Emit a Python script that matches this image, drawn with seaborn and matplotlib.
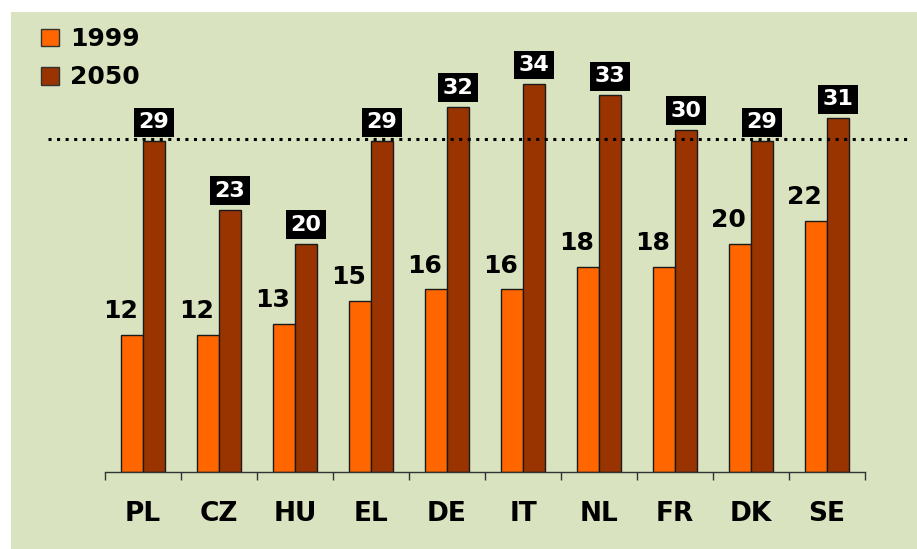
import pandas as pd
import matplotlib.pyplot as plt
import seaborn as sns
from matplotlib.patches import Patch, Rectangle

# Dados
paises = ['PL', 'CZ', 'HU', 'EL', 'DE', 'IT', 'NL', 'FR', 'DK', 'SE']
valores_1999 = [12, 12, 13, 15, 16, 16, 18, 18, 20, 22]
valores_2050 = [29, 23, 20, 29, 32, 34, 33, 30, 29, 31]
anos = ['1999', '2050']
linha_ref = 29.2

cores = {'1999': '#ff6600', '2050': '#993300'}
fundo = '#d9e3bf'

df = pd.DataFrame({
    'pais': paises * 2,
    'ano': ['1999'] * len(paises) + ['2050'] * len(paises),
    'valor': valores_1999 + valores_2050,
})

sns.set_style('white')
plt.rcParams['font.family'] = ['DejaVu Sans']
plt.rcParams['font.weight'] = 'bold'
plt.rcParams['text.color'] = 'black'
plt.rcParams['xtick.color'] = 'black'

fig = plt.figure(figsize=(9.17, 5.49), dpi=100)
fig.patch.set_facecolor('white')
# fundo verde
fig.patches.append(Rectangle((11 / 917, 0), 1, 1 - 12 / 549, transform=fig.transFigure,
                             facecolor=fundo, edgecolor='none', zorder=-10))

ymax = 38
ax = fig.add_axes([105 / 917, 77 / 549, 760 / 917, ymax * 11.41 / 549])
ax.set_facecolor('none')
ax.set_zorder(1)

sns.barplot(data=df, x='pais', y='valor', hue='ano', hue_order=anos, order=paises,
            palette=cores, saturation=1, width=0.58, edgecolor='#1a1a1a', linewidth=1,
            legend=False, ax=ax)

ax.set_xlim(-0.5, len(paises) - 0.5)
ax.set_ylim(0, ymax)
ax.set_xlabel('')
ax.set_ylabel('')
ax.set_yticks([])

# rotulos 1999 (texto preto, deslocado para a esquerda)
for barra, v in zip(ax.containers[0], valores_1999):
    ax.annotate(str(v), (barra.get_x() + barra.get_width() / 2, barra.get_height()),
                xytext=(-8.5, 12), textcoords='offset points', ha='center', va='baseline',
                fontsize=18, fontweight='bold', color='black')

# rotulos 2050 (texto branco em caixa preta)
for barra, v in zip(ax.containers[1], valores_2050):
    ax.annotate(str(v), (barra.get_x() + barra.get_width() / 2, barra.get_height()),
                xytext=(0, 6.5), textcoords='offset points', ha='center', va='bottom',
                fontsize=16, fontweight='bold', color='white',
                bbox=dict(boxstyle='square,pad=0.2', facecolor='black', edgecolor='none'))

# linha pontilhada de referencia
ax.axhline(linha_ref, xmin=-0.075, xmax=1.059, color='black', lw=2.2,
           linestyle=(0, (1, 1.8)), clip_on=False, zorder=1)

# eixo x
for lado in ['top', 'left', 'right']:
    ax.spines[lado].set_visible(False)
ax.spines['bottom'].set_color('#333333')
ax.spines['bottom'].set_linewidth(1)
ax.set_xticks([i - 0.5 for i in range(len(paises) + 1)], minor=True)
ax.tick_params(axis='x', which='minor', bottom=True, direction='out', length=6,
               width=1, color='#333333')
ax.tick_params(axis='x', which='major', length=0, pad=21, labelsize=19, labelcolor='black')
for lbl in ax.get_xticklabels():
    lbl.set_fontweight('bold')

# legenda
handles = [Patch(facecolor=cores[a], edgecolor='#333333', linewidth=1) for a in anos]
fig.legend(handles, anos, loc='upper left', bbox_to_anchor=(41 / 917, 1 - 27 / 549),
           frameon=False, prop={'weight': 'bold', 'size': 18},
           handlelength=0.7, handleheight=0.7, handletextpad=0.45,
           labelspacing=0.58, borderpad=0, borderaxespad=0)

plt.savefig('out.png', dpi=100, facecolor=fig.get_facecolor())
